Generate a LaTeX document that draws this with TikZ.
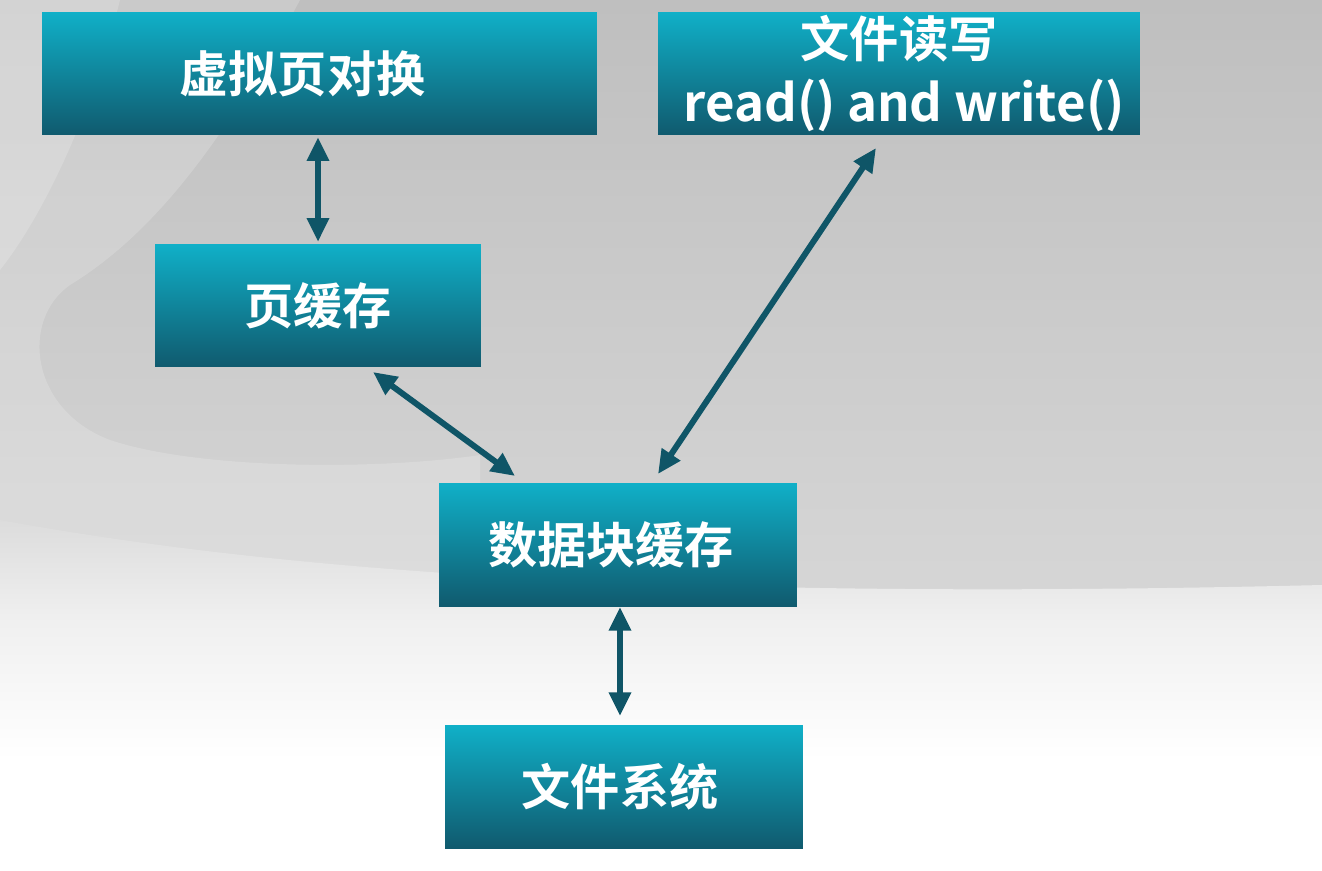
\documentclass[tikz,border=0pt]{standalone}
\usepackage{fontspec}
\newfontfamily\cjkb{Noto Sans CJK SC Bold}
\usetikzlibrary{arrows.meta,calc}
\definecolor{boxtop}{HTML}{10B0C8}
\definecolor{boxbot}{HTML}{105A6E}
\definecolor{arrowc}{HTML}{0F5567}
\definecolor{bgtop}{HTML}{BFBFBF}
\definecolor{bgmid}{HTML}{D6D6D6}
\tikzset{
  box/.style={rectangle, inner sep=0pt, top color=boxtop, bottom color=boxbot,
    text=white, font=\cjkb\fontsize{28pt}{32pt}\selectfont, align=center,
    minimum height=2.46cm},
  link/.style={draw=arrowc, line width=3.4pt,
    {Triangle[width=12pt,length=13.5pt]}-{Triangle[width=12pt,length=13.5pt]}}
}
\begin{document}
\begin{tikzpicture}[x=0.02cm,y=-0.02cm]
\useasboundingbox (0,0) rectangle (1322,870);
% background
\shade[top color=bgtop, bottom color=bgmid] (0,0) rectangle (1322,600);
\fill[white, opacity=0.18] (0,0) -- (300,0) .. controls (230,130) and (160,230) .. (70,285)
  .. controls (20,320) and (30,410) .. (110,440) .. controls (200,470) and (380,470) .. (480,455)
  -- (480,600) -- (0,600) -- cycle;
\fill[white, opacity=0.18] (0,0) -- (120,0) .. controls (90,120) and (40,220) .. (0,270) -- cycle;
\fill[white] (0,760) rectangle (1322,870);
\shade[top color=white!88!gray, bottom color=white] (0,620) rectangle (1322,760);
\shade[top color=bgmid!85!white, bottom color=white!88!gray]
  (0,520) .. controls (300,575) and (700,600) .. (1322,585) -- (1322,620) -- (0,620) -- cycle;
% boxes
\node[box, minimum width=11.10cm] (b1) at (319.5,73.5) {虚拟页对换\kern0.68cm};
\node[box, minimum width=9.64cm] (b2) at (899,73.5)
  {文件读写\\[4pt]{\kern0.2cm\fontsize{29pt}{32pt}\selectfont read() and write()}};
\node[box, minimum width=6.52cm] (b3) at (318,305.5) {页缓存};
\node[box, minimum width=7.16cm] (b4) at (618,544.5) {数据块缓存\kern0.28cm};
\node[box, minimum width=7.16cm] (b5) at (624,786.5) {文件系统\kern0.16cm};
% connector ends
\coordinate (c3a) at (373,372);
\coordinate (c4a) at (515,476);
\coordinate (c2a) at (876,148);
\coordinate (c4b) at (658,474);
\coordinate (c4c) at (620,607);
\coordinate (c5a) at (620,716);
% connectors
\draw[link] ([yshift=-1pt]b3.north |- b1.south) -- ([yshift=1pt]b3.north);
\draw[link] (c3a) -- (c4a);
\draw[link] (c2a) -- (c4b);
\draw[link] (c4c) -- (c5a);
\end{tikzpicture}
\end{document}
